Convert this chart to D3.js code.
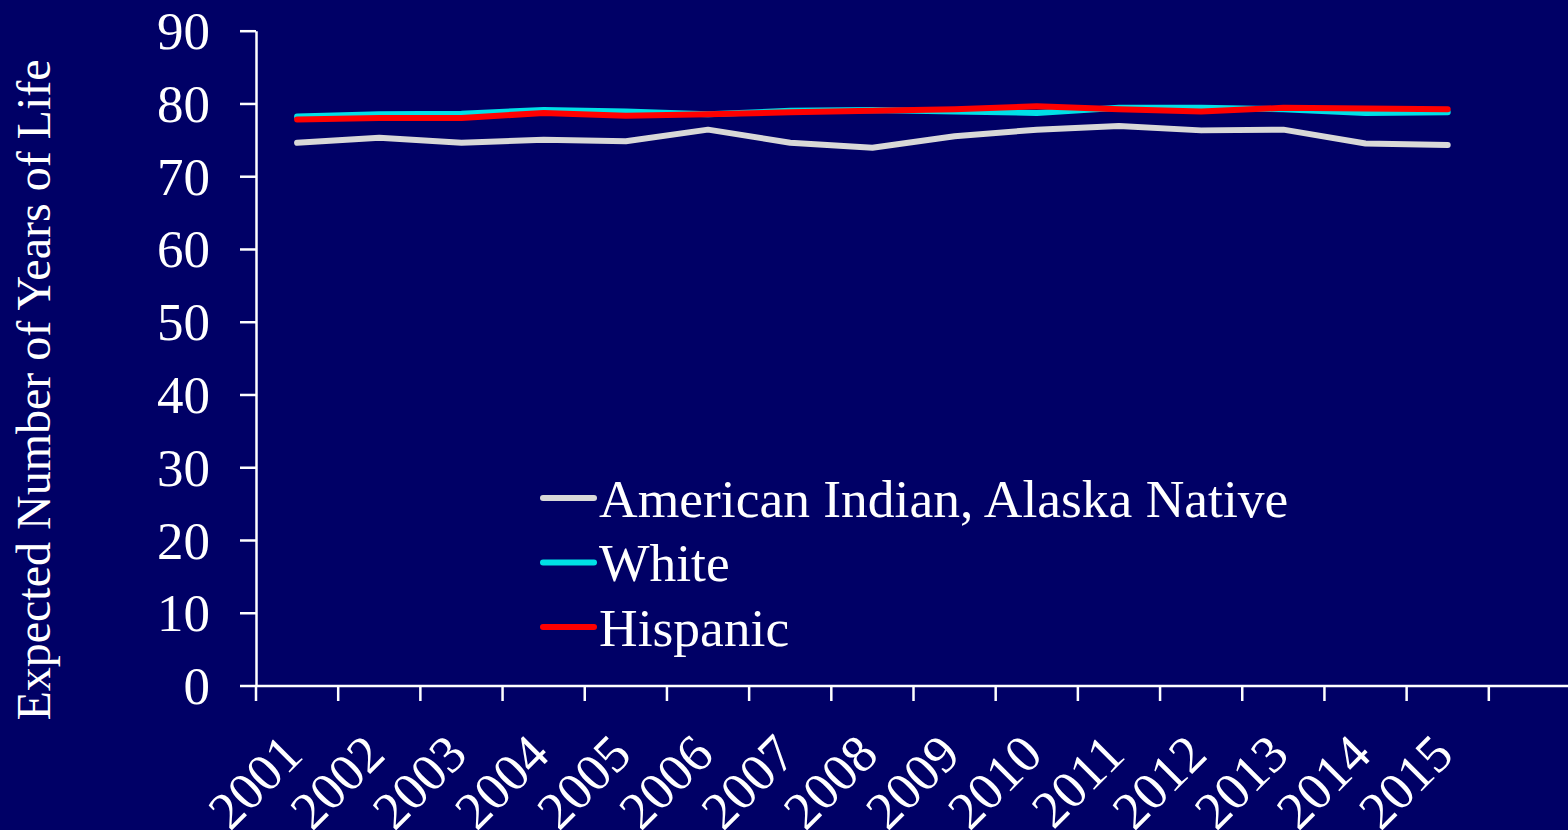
<!DOCTYPE html>
<html><head><meta charset="utf-8">
<script src="https://cdn.jsdelivr.net/npm/d3@7"></script>
<style>html,body{margin:0;padding:0;background:#000066;overflow:hidden}</style>
</head><body>
<svg id="chart" width="1568" height="830"></svg>
<script>
const years = ["2001","2002","2003","2004","2005","2006","2007","2008","2009","2010","2011","2012","2013","2014","2015"];
const slots = years.concat([""]);
const aian = [74.6,75.3,74.6,75.0,74.8,76.4,74.6,73.9,75.5,76.4,76.9,76.3,76.4,74.5,74.3];
const white = [78.2,78.5,78.6,79.1,78.9,78.5,79.0,79.1,78.9,78.7,79.4,79.4,79.2,78.7,78.8];
const hispanic = [77.8,78.0,78.0,78.7,78.3,78.5,78.8,79.0,79.2,79.6,79.2,78.9,79.4,79.3,79.2];
const yTicks = [0,10,20,30,40,50,60,70,80,90];
const seriesNames = ["American Indian, Alaska Native","White","Hispanic"];
const seriesColors = ["#d8d8d8","#00e0e6","#ff0000"];
const seriesValues = [aian, white, hispanic];

const svg = d3.select("#chart");
svg.append("rect").attr("width",1568).attr("height",830).attr("fill","#000066");

const x = d3.scaleBand().domain(slots).range([256, 1571]);
const y = d3.scaleLinear().domain([0,90]).range([685.5, 30.7]);

const font = "'Liberation Serif','Times New Roman',serif";

// y axis
const yAxis = svg.append("g").attr("transform","translate(256,0)")
  .call(d3.axisLeft(y).tickValues(yTicks).tickSize(16).tickPadding(30).tickSizeOuter(0));
yAxis.select(".domain").attr("stroke","#fff").attr("stroke-width",2.5);
yAxis.selectAll(".tick line").attr("stroke","#fff").attr("stroke-width",2.5);
yAxis.selectAll(".tick text").attr("fill","#fff").style("font-family",font).style("font-size","53px").attr("dy","0.34em");

// x axis
const xAxis = svg.append("g").attr("transform","translate(0,685.5)")
  .call(d3.axisBottom(x).tickSize(0).tickSizeOuter(0));
xAxis.select(".domain").attr("stroke","#fff").attr("stroke-width",2.5);
xAxis.selectAll(".tick text").remove();
xAxis.selectAll(".tick line").remove();
// boundary ticks
svg.append("g").selectAll("line").data(slots).join("line")
  .attr("x1",d=>x(d)).attr("x2",d=>x(d)).attr("y1",685.5).attr("y2",701)
  .attr("stroke","#fff").attr("stroke-width",2.5);
svg.append("g").selectAll("text").data(years).join("text")
  .attr("transform",d=>`translate(${x(d)+x.bandwidth()/2+8},${757}) rotate(-45)`)
  .attr("text-anchor","end")
  .attr("fill","#fff").style("font-family",font).style("font-size","53px")
  .text(d=>d);

// y title
svg.append("text").attr("transform","translate(50,390) rotate(-90)")
  .attr("text-anchor","middle").attr("fill","#fff")
  .style("font-family",font).style("font-size","48px")
  .text("Expected Number of Years of Life");

// lines
const line = d3.line().x((d,i)=>x(years[i])+x.bandwidth()/2).y(d=>y(d));
seriesValues.forEach((vals,k)=>{
  svg.append("path").datum(vals).attr("d",line).attr("fill","none")
    .attr("stroke",seriesColors[k]).attr("stroke-width",6)
    .attr("stroke-linecap","round").attr("stroke-linejoin","round");
});

// legend
const lg = svg.append("g");
seriesNames.forEach((n,k)=>{
  const yy = 498 + k*64.5;
  lg.append("line").attr("x1",543).attr("x2",594).attr("y1",yy).attr("y2",yy)
    .attr("stroke",seriesColors[k]).attr("stroke-width",6).attr("stroke-linecap","round");
  lg.append("text").attr("x",599).attr("y",yy).attr("dy","0.35em")
    .attr("fill","#fff").style("font-family",font).style("font-size","53.5px").text(n);
});
</script>
</body></html>
